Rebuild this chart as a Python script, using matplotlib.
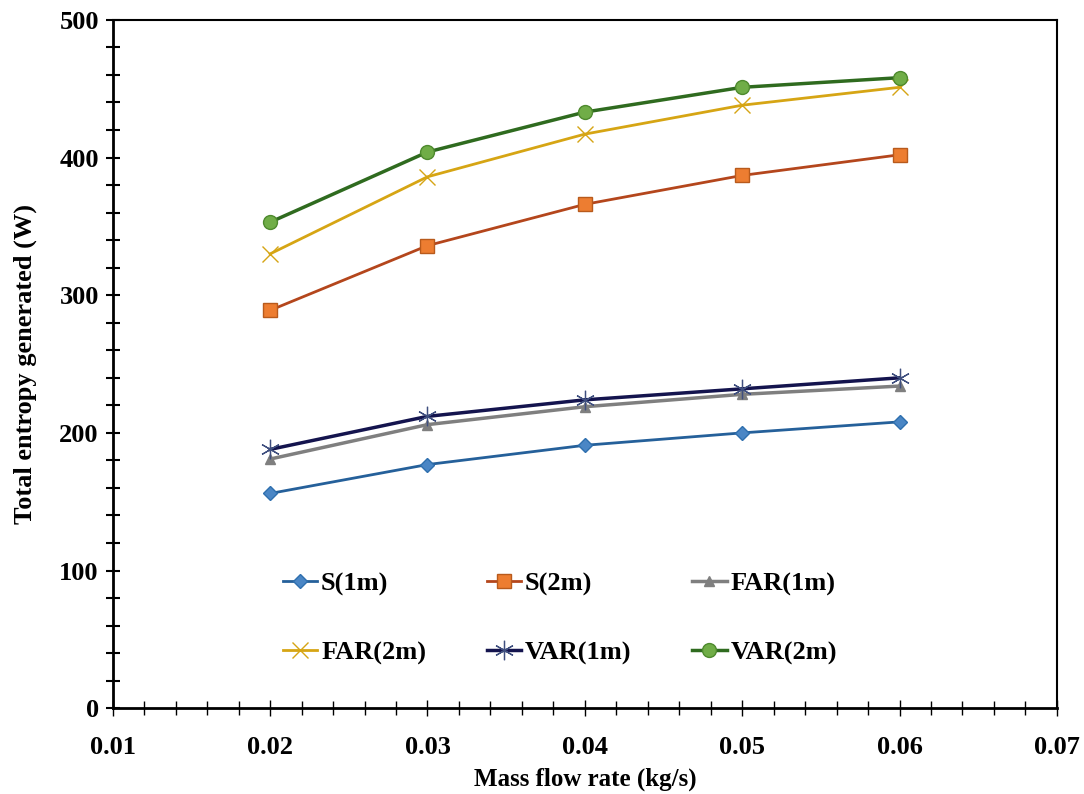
import matplotlib
matplotlib.use('Agg')
import matplotlib.pyplot as plt
from matplotlib.ticker import MultipleLocator, FormatStrFormatter

plt.rcParams['font.family'] = 'Liberation Serif'
plt.rcParams['font.weight'] = 'bold'

mass_flow = [0.02, 0.03, 0.04, 0.05, 0.06]
s_1m = [156, 177, 191, 200, 208]
s_2m = [289, 336, 366, 387, 402]
far_1m = [181, 206, 219, 228, 234]
far_2m = [330, 386, 417, 438, 451]
var_1m = [188, 212, 224, 232, 240]
var_2m = [353, 404, 433, 451, 458]

fig = plt.figure(figsize=(10.84, 7.94), dpi=100)
ax = fig.add_axes([0.104, 0.108, 0.871, 0.867])

h1, = ax.plot(mass_flow, s_1m, color='#25609A', lw=2, marker='D', ms=7,
              mfc='#4A86C5', mec='#2E6FAE', label='S(1m)')
h2, = ax.plot(mass_flow, s_2m, color='#B4461C', lw=2, marker='s', ms=10,
              mfc='#ED7D31', mec='#B85A1C', label='S(2m)')
h3, = ax.plot(mass_flow, far_1m, color='#7F7F7F', lw=2.5, marker='^', ms=7,
              mfc='#7F7F7F', mec='#7F7F7F', label='FAR(1m)')
h4, = ax.plot(mass_flow, far_2m, color='#D6A514', lw=2, marker='x', ms=11,
              mew=1, mec='#D6A514', label='FAR(2m)')
h5, = ax.plot(mass_flow, var_1m, color='#14144E', lw=2.5, marker=(6, 2, 0), ms=14,
              mew=0.9, mec='#3F4F7F', label='VAR(1m)')
h6, = ax.plot(mass_flow, var_2m, color='#2F6B1F', lw=2.5, marker='o', ms=10,
              mfc='#70AD47', mec='#4E8A2E', label='VAR(2m)')

ax.set_xlim(0.01, 0.07)
ax.set_ylim(0, 500)
ax.xaxis.set_major_locator(MultipleLocator(0.01))
ax.xaxis.set_minor_locator(MultipleLocator(0.002))
ax.yaxis.set_major_locator(MultipleLocator(100))
ax.yaxis.set_minor_locator(MultipleLocator(20))
ax.xaxis.set_major_formatter(FormatStrFormatter('%.2f'))

ax.tick_params(axis='both', which='both', direction='inout', labelsize=19)
ax.tick_params(axis='x', which='major', length=12, width=1, pad=14)
ax.tick_params(axis='x', which='minor', length=10, width=1)
ax.tick_params(axis='y', which='major', length=10, width=1.5, pad=5)
ax.tick_params(axis='y', which='minor', length=10, width=1.5)

for side in ['left', 'bottom']:
    ax.spines[side].set_linewidth(2)
for side in ['top', 'right']:
    ax.spines[side].set_linewidth(1.5)

ax.set_xlabel('Mass flow rate (kg/s)', fontsize=18, fontweight='bold', labelpad=6)
ax.set_ylabel('Total entropy generated (W)', fontsize=19, fontweight='bold', labelpad=16)

# legend filled row by row: S(1m), S(2m), FAR(1m) / FAR(2m), VAR(1m), VAR(2m)
handles = [h1, h4, h2, h5, h3, h6]
ax.legend(handles=handles, labels=[h.get_label() for h in handles],
          ncol=3, loc='lower left', bbox_to_anchor=(0.155, 0.029), frameon=False,
          fontsize=19, columnspacing=2.3, labelspacing=1.7, handlelength=1.3,
          handletextpad=0.15)

fig.savefig('out.png', dpi=100)
